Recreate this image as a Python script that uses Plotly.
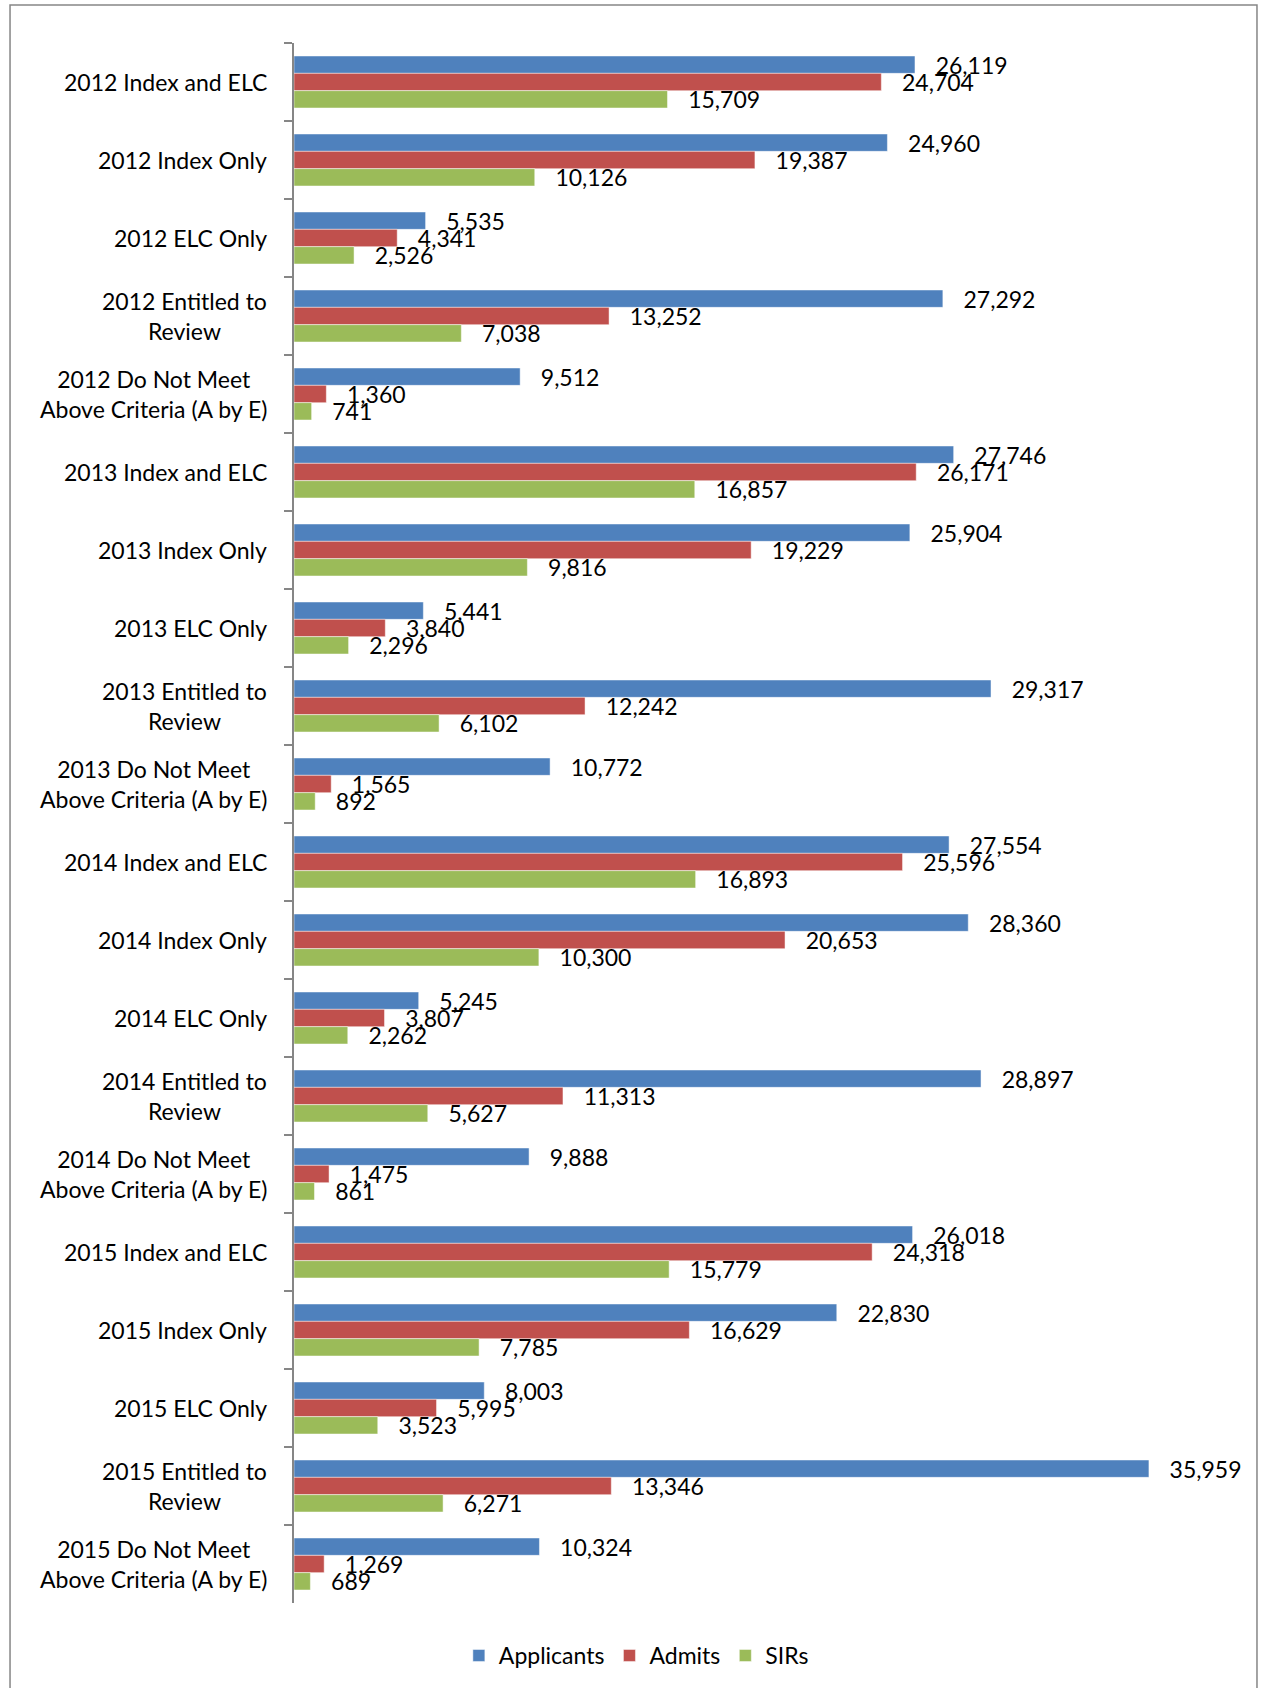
import plotly.graph_objects as go

categories = [
    "2012 Index and ELC", "2012 Index Only", "2012 ELC Only", "2012 Entitled to<br>Review",
    "2012 Do Not Meet<br>Above Criteria (A by E)",
    "2013 Index and ELC", "2013 Index Only", "2013 ELC Only", "2013 Entitled to<br>Review",
    "2013 Do Not Meet<br>Above Criteria (A by E)",
    "2014 Index and ELC", "2014 Index Only", "2014 ELC Only", "2014 Entitled to<br>Review",
    "2014 Do Not Meet<br>Above Criteria (A by E)",
    "2015 Index and ELC", "2015 Index Only", "2015 ELC Only", "2015 Entitled to<br>Review",
    "2015 Do Not Meet<br>Above Criteria (A by E)",
]
applicants = [26119, 24960, 5535, 27292, 9512,
              27746, 25904, 5441, 29317, 10772,
              27554, 28360, 5245, 28897, 9888,
              26018, 22830, 8003, 35959, 10324]
admits = [24704, 19387, 4341, 13252, 1360,
          26171, 19229, 3840, 12242, 1565,
          25596, 20653, 3807, 11313, 1475,
          24318, 16629, 5995, 13346, 1269]
sirs = [15709, 10126, 2526, 7038, 741,
        16857, 9816, 2296, 6102, 892,
        16893, 10300, 2262, 5627, 861,
        15779, 7785, 3523, 6271, 689]

series = [("Applicants", applicants, "#4F81BD"),
          ("Admits", admits, "#C0504D"),
          ("SIRs", sirs, "#9BBB59")]

FONT = "Lato, Carlito, Calibri, sans-serif"
FS = 23

fig = go.Figure()
for name, vals, color in series:
    fig.add_trace(go.Bar(
        name=name, y=categories, x=vals, orientation="h",
        marker=dict(color=color, line=dict(color="rgba(255,255,255,0.6)", width=0.8)),
        texttemplate="\u00a0\u00a0\u00a0%{x:,}", textposition="outside",
        textfont=dict(family=FONT, size=FS, color="black"),
        constraintext="none", cliponaxis=False, hoverinfo="skip",
    ))

for c in categories:
    fig.add_annotation(
        x=-0.0263, xref="paper", y=c, yref="y", text=c, showarrow=False,
        xanchor="right", yanchor="middle", align="center",
        font=dict(family=FONT, size=FS, color="black"),
    )

fig.add_shape(type="rect", xref="paper", yref="paper",
              x0=-0.2986, x1=1.0126, y0=-0.07, y1=1.0243,
              line=dict(color="#868686", width=1.5), fillcolor="rgba(0,0,0,0)", layer="below")

fig.update_layout(
    width=1262, height=1688,
    margin=dict(l=294, r=17, t=43, b=84),
    paper_bgcolor="white", plot_bgcolor="white",
    barmode="group", bargap=0.333, bargroupgap=0,
    font=dict(family=FONT, size=FS, color="black"),
    showlegend=True,
    legend=dict(orientation="h", x=0.36, xanchor="center", y=-0.033, yanchor="middle",
                font=dict(family=FONT, size=FS), itemwidth=30, traceorder="normal"),
    xaxis=dict(range=[0, 40000], visible=False, showgrid=False, zeroline=False),
    yaxis=dict(autorange="reversed", showticklabels=False, showgrid=False, zeroline=False,
               showline=True, linecolor="#868686", linewidth=1.5,
               ticks="outside", ticklen=8, tickcolor="#868686", tickwidth=1.5,
               tickson="boundaries"),
)

fig.write_html(
    "out.html",
    config={"displayModeBar": False},
    post_script="document.body.style.margin='0';document.body.style.overflow='hidden';",
)
